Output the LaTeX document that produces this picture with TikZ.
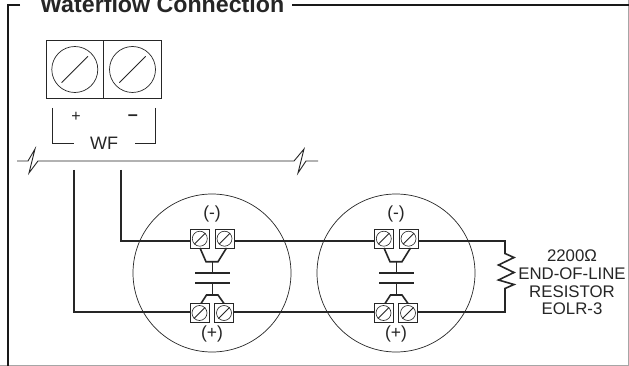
\documentclass[tikz,border=0pt]{standalone}
\usepackage{fontspec}
\setmainfont{Liberation Sans}
\tikzset{
  x=1pt,y=-1pt,
  frameline/.style={line width=2pt,black!90},
  wire/.style={line width=1.6pt,black!85,line join=miter},
  thinwire/.style={line width=0.9pt,black!85},
  device/.style={circle,draw,line width=0.7pt,black!85,minimum size=158pt,inner sep=0pt},
  tbox/.style={rectangle,draw,line width=0.8pt,black!85,minimum size=19pt,inner sep=0pt},
  tscrew/.style={circle,draw,line width=0.6pt,black!85,minimum size=15pt,inner sep=0pt},
  bigbox/.style={rectangle,draw,line width=0.9pt,black!85,minimum width=57.7pt,minimum height=58pt,inner sep=0pt},
  bigscrew/.style={circle,draw,line width=0.7pt,black!85,minimum size=46pt,inner sep=0pt},
  slash/.style={line width=0.8pt,black!85},
  lbl/.style={inner sep=0pt,text=black!85},
}
\newcommand{\terminal}[3]{%
  \node[tbox] (#1) at (#2,#3) {};
  \node[tscrew] (#1s) at (#2,#3) {};
  \draw[slash] (#1s.225) -- (#1s.45);
}
\newcommand{\bigterminal}[3]{%
  \node[bigbox] (#1) at (#2,#3) {};
  \node[bigscrew] (#1s) at (#2,#3) {};
  \draw[slash] ($(#1s.225)!0.1!(#1s.45)$) -- ($(#1s.45)!0.1!(#1s.225)$);
}
\usetikzlibrary{calc}
\begin{document}
\begin{tikzpicture}
\useasboundingbox (0,0) rectangle (629,366);
\clip (0,0) rectangle (629,366);
\fill[white] (0,0) rectangle (629,366);
\draw[line width=1pt,black!35] (628.5,0) -- (628.5,365.5) -- (0,365.5);
% frame
\node[lbl,anchor=base west,font=\bfseries\fontsize{23.2}{24}\selectfont] (title) at (40,13) {Waterflow Connection};
\coordinate (fa) at (20,5.5);
\coordinate (fb) at (8,5.5);
\coordinate (fc) at (8,366);
\coordinate (fd) at (292,5.5);
\coordinate (fe) at (629,5.5);
\draw[frameline] (fa) -- (fb) -- (fc);
\draw[frameline] (fd) -- (fe);
% WF terminal
\bigterminal{wa}{74.8}{69.5}
\bigterminal{wb}{132.5}{69.5}
\coordinate (bl0) at (52.5,108);
\coordinate (bl1) at (52.5,143.5);
\coordinate (bl2) at (74,143.5);
\coordinate (br0) at (155,108);
\coordinate (br1) at (155,143.5);
\coordinate (br2) at (135,143.5);
\draw[thinwire] (bl0) -- (bl1) -- (bl2);
\draw[thinwire] (br0) -- (br1) -- (br2);
\node[lbl,font=\fontsize{16}{16}\selectfont] (plus) at (76,117) {+};
\node[lbl,font=\bfseries\fontsize{18}{18}\selectfont] (minus) at (133,118) {–};
\node[lbl,font=\fontsize{18}{18}\selectfont] (wf) at (104,143.5) {WF};
% broken wire
\coordinate (ba) at (17,161);
\coordinate (bb) at (318,161);
\draw[thinwire] (ba) -- (28,161) -- (35,149) -- (29,173) -- (38,161) -- (294,161) -- (304,149) -- (298,173) -- (306,161) -- (bb);
% devices
\node[device] (d1) at (212,273) {};
\node[device] (d2) at (396,273) {};
\terminal{a1}{199.8}{238.7}
\terminal{a2}{224.5}{238.7}
\terminal{a3}{199.5}{313}
\terminal{a4}{224}{313}
\terminal{b1}{383.8}{238.7}
\terminal{b2}{408.5}{238.7}
\terminal{b3}{383.5}{313}
\terminal{b4}{408}{313}
\node[lbl,font=\fontsize{17.5}{17.5}\selectfont] (m1) at (212,214) {(-)};
\node[lbl,font=\fontsize{17.5}{17.5}\selectfont] (m2) at (396,214) {(-)};
\node[lbl,font=\fontsize{17.5}{17.5}\selectfont] (p1) at (212,334) {(+)};
\node[lbl,font=\fontsize{17.5}{17.5}\selectfont] (p2) at (396,334) {(+)};
% wiring
\coordinate (v1) at (74,170);
\coordinate (v2) at (121,170);
\coordinate (rt) at (505,241);
\coordinate (rb) at (505,312);
\draw[wire] (v2) |- (a1.west |- 0,241);
\draw[wire] (v1) |- (a3.west |- 0,312);
\draw[wire] (a2.east |- 0,241) -- (b1.west |- 0,241);
\draw[wire] (a4.east |- 0,312) -- (b3.west |- 0,312);
\draw[wire] (b2.east |- 0,241) -- (rt) -- (505,253.5) -- (514,257.5) -- (498.5,265) -- (514,272.5) -- (498.5,280) -- (514,284.5) -- (505,288.5) -- (rb) -- (b4.east |- 0,312);
% contacts
\foreach \dx/\n in {212/1,396/2}{
  \begin{scope}[shift={(\dx,0)}]
    \draw[wire] (-12,248) -- (-6,261.7) -- (6,261.7) -- (14.5,248);
    \draw[wire] (0.3,261.7) -- (0.3,273);
    \draw[wire] (-17,273) -- (18,273);
    \draw[wire] (-17,282.7) -- (18,282.7);
    \draw[wire] (0.3,282.7) -- (0.3,295);
    \draw[wire] (-11,303.5) -- (-5.5,295) -- (6,295) -- (12,303.5);
  \end{scope}
}
\node[lbl,align=center,font=\fontsize{16.8}{17.6}\selectfont,anchor=center] (eol) at (572,282.5) {2200Ω\\END-OF-LINE\\RESISTOR\\EOLR-3};
\end{tikzpicture}
\end{document}
